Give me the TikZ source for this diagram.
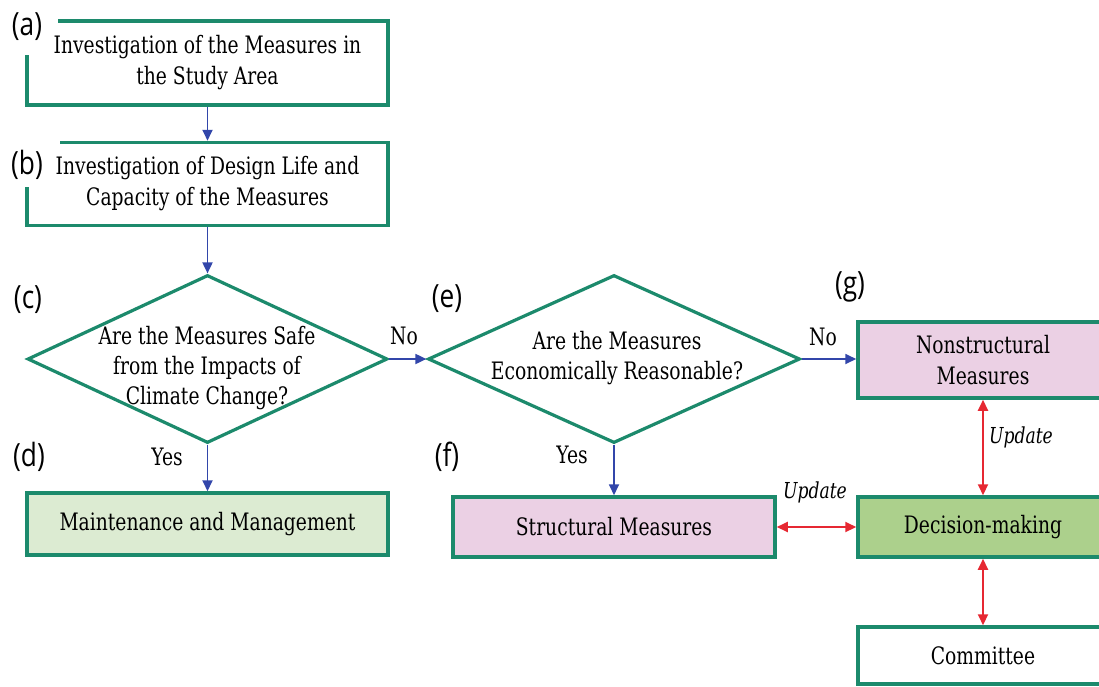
\documentclass[tikz,border=0pt]{standalone}
\usepackage{fontspec}
\setmainfont{DejaVu Serif}[FakeStretch=0.78]
\newfontfamily\labfont{Open Sans}[FakeStretch=0.82]
\usetikzlibrary{shapes.geometric,arrows.meta}
\definecolor{bord}{RGB}{28,138,108}
\definecolor{blu}{RGB}{50,70,170}
\definecolor{redc}{RGB}{230,40,50}
\definecolor{pinkf}{RGB}{235,208,228}
\definecolor{lgreen}{RGB}{220,235,210}
\definecolor{dgreen}{RGB}{172,208,140}
\begin{document}
\begin{tikzpicture}[x=1pt,y=-1pt,
  box/.style={draw=bord, line width=3.5pt, rectangle, inner sep=0pt, align=center, font=\fontsize{24}{31}\selectfont},
  dia/.style={draw=bord, line width=3.2pt, diamond, inner sep=0pt},
  txt/.style={align=center, font=\fontsize{24}{30}\selectfont, inner sep=0pt},
  lab/.style={font=\labfont\fontsize{32}{34}\selectfont, inner sep=0pt},
  blu/.style={draw=blu, line width=1.8pt, -{Triangle[length=11pt,width=10pt]}},
  redar/.style={draw=redc, line width=2pt, {Triangle[length=11pt,width=10pt]}-{Triangle[length=11pt,width=10pt]}},
  upd/.style={font=\itshape\fontsize{22}{26}\selectfont, inner sep=0pt},
]
\path[use as bounding box, clip] (0,0) rectangle (1099,686);

\node[box, minimum width=361pt, minimum height=84pt] (a) at (207.5,63) {Investigation of the Measures in\\the Study Area};
\node[box, minimum width=361pt, minimum height=83pt] (b) at (207.5,184) {Investigation of Design Life and\\Capacity of the Measures};
\node[dia, minimum width=360pt, minimum height=168pt] (c) at (207.5,359) {};
\node[txt] (ct) at (207,368) {Are the Measures Safe\\from the Impacts of\\Climate Change?};
\node[box, fill=lgreen, minimum width=361pt, minimum height=62pt] (d) at (207.5,524) {Maintenance and Management};
\node[dia, minimum width=372pt, minimum height=168pt] (e) at (614,359) {};
\node[txt] (et) at (617,358) {Are the Measures\\Economically Reasonable?};
\node[box, fill=pinkf, minimum width=322pt, minimum height=60pt] (f) at (614,527) {Structural Measures};
\node[box, fill=pinkf, minimum width=250pt, minimum height=76pt] (g) at (983,360) {Nonstructural\\Measures};
\node[box, fill=dgreen, minimum width=250pt, minimum height=60pt] (h) at (983,527) {Decision-making};
\node[box, fill=white, minimum width=250pt, minimum height=57pt] (k) at (983,655.5) {Committee};

\draw[blu] (a) -- (b);
\draw[blu] (b) -- (c);
\draw[blu] (c) -- (d);
\draw[blu] (c.east) -- (e.west);
\draw[blu] (e) -- (f);
\draw[blu] (e.east) -- (e.east -| g.west);
\draw[redar] (g) -- (h);
\draw[redar] (f) -- (h);
\draw[redar] (h) -- (k);

\node[txt] (no1) at (404,336) {No};
\node[txt] (no2) at (823,337) {No};
\node[txt] (yes1) at (167,457) {Yes};
\node[txt] (yes2) at (572,455) {Yes};
\node[upd] (up1) at (1021,437) {Update};
\node[upd] (up2) at (815,492) {Update};

% gaps in the borders behind labels (a) and (b)
\fill[white] (20,14) rectangle (58,27);
\fill[white] (20,14) rectangle (34,55);
\fill[white] (20,135) rectangle (60,149);
\fill[white] (20,135) rectangle (34,187);
\node[lab] (la) at (27,27) {(a)};
\node[lab] (lb) at (27,165) {(b)};
\node[lab] (lc) at (28,300) {(c)};
\node[lab] (ld) at (29,457) {(d)};
\node[lab] (le) at (447,299) {(e)};
\node[lab] (lf) at (447,457) {(f)};
\node[lab] (lg) at (850,287) {(g)};
\end{tikzpicture}
\end{document}
